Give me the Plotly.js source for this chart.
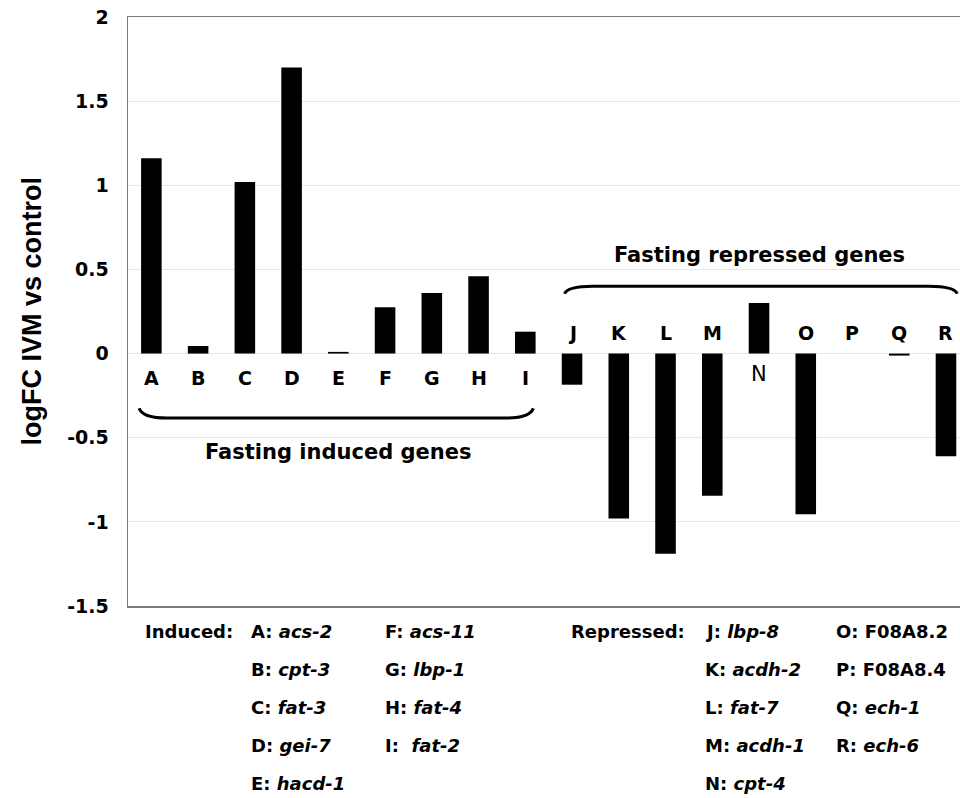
<!DOCTYPE html>
<html>
<head>
<meta charset="utf-8">
<script src="https://cdn.plot.ly/plotly-3.0.1.min.js"></script>
<style>html,body{margin:0;padding:0;background:#fff;}#chart{width:960px;height:798px;}</style>
</head>
<body>
<div id="chart"></div>
<script>
// ---- data ----
const categories = ["A","B","C","D","E","F","G","H","I","J","K","L","M","N","O","P","Q","R"];
const logFC = [1.16, 0.045, 1.02, 1.70, 0.01, 0.275, 0.36, 0.46, 0.13,
               -0.185, -0.98, -1.19, -0.845, 0.30, -0.955, 0, -0.012, -0.61];
const inducedGenes = ["acs-2","cpt-3","fat-3","gei-7","hacd-1","acs-11","lbp-1","fat-4","fat-2"];
const repressedGenes = ["lbp-8","acdh-2","fat-7","acdh-1","cpt-4","F08A8.2","F08A8.4","ech-1","ech-6"];
const italicGene = [true,true,true,true,true,true,true,true,true,
                    true,true,true,true,true,false,false,true,true];
const yTicks = [-1.5, -1, -0.5, 0, 0.5, 1, 1.5, 2];
const yTitle = "logFC IVM vs control";
const inducedLabel = "Fasting induced genes";
const repressedLabel = "Fasting repressed genes";

// ---- layout helpers ----
const W = 960, H = 798;
const mL = 128, mR = 0, mT = 17, mB = 192;
const xMin = -0.5, xMax = 17.3;
const plotW = W - mL - mR, plotH = H - mT - mB;
const xp = i => (i - xMin) / (xMax - xMin);           // category index -> paper x
const pxToPaper = px => (px - mL) / plotW;
const pyToPaper = py => (H - mB - py) / plotH;
const hFont = "DejaVu Sans, Arial, sans-serif";
const vFont = "Liberation Sans, Arial, sans-serif";

const annotations = [];
// bar letter labels
categories.forEach((c, i) => {
  const below = logFC[i] > 0;
  const regular = (i >= 9 && logFC[i] > 0);
  annotations.push({
    x: c, y: 0, xref: "x", yref: "y", showarrow: false,
    text: regular ? c : "<b>" + c + "</b>",
    yshift: below ? (regular ? -20 : -24) : 21,
    font: {family: hFont, size: regular ? 21 : 19, color: "#000"},
    xanchor: "center", yanchor: "middle"
  });
});
// group labels
annotations.push({x: categories[4], y: -0.583, xref: "x", yref: "y", showarrow: false,
  text: "<b>" + inducedLabel + "</b>", font: {family: hFont, size: 21, color: "#000"}});
annotations.push({x: categories[13], y: 0.583, xref: "x", yref: "y", showarrow: false,
  text: "<b>" + repressedLabel + "</b>", font: {family: hFont, size: 21, color: "#000"}});
// y title
annotations.push({x: pxToPaper(31), y: 0.5, xref: "paper", yref: "paper", showarrow: false,
  text: "<b>" + yTitle + "</b>", textangle: -90, xanchor: "center", yanchor: "middle",
  font: {family: vFont, size: 27, color: "#000"}});

// legend text block
const rowPx = [631, 669, 707, 745, 783];
const legFont = {family: hFont, size: 18, color: "#000"};
function geneText(letter, gene, ital) {
  return "<b>" + letter + ": " + (ital ? "<i>" + gene + "</i>" : gene) + "</b>";
}
function legAnn(px, row, text) {
  return {x: pxToPaper(px), y: pyToPaper(rowPx[row]), xref: "paper", yref: "paper",
          showarrow: false, xanchor: "left", yanchor: "middle", text: text, font: legFont};
}
annotations.push(legAnn(143, 0, "<b>Induced:</b>"));
annotations.push(legAnn(569, 0, "<b>Repressed:</b>"));
inducedGenes.forEach((g, k) => {
  const col = k < 5 ? 0 : 1, row = k < 5 ? k : k - 5;
  const letter = categories[k];
  annotations.push(legAnn(col === 0 ? 249 : 383, row,
    letter === "I" ? "<b>I:  <i>" + g + "</i></b>" : geneText(letter, g, italicGene[k])));
});
repressedGenes.forEach((g, k) => {
  const col = k < 5 ? 0 : 1, row = k < 5 ? k : k - 5;
  const idx = 9 + k;
  annotations.push(legAnn(col === 0 ? 703 : 834, row, geneText(categories[idx], g, italicGene[idx])));
});

// braces (decorations)
function bracePath(x0, x1, yEnd, yMid, r) {
  const a = xp(x0), b = xp(x1), rr = r / (xMax - xMin);
  return `M ${a},${yEnd} Q ${a + rr * 0.1},${yMid} ${a + rr},${yMid} L ${b - rr},${yMid} Q ${b - rr * 0.1},${yMid} ${b},${yEnd}`;
}
const shapes = [
  {type: "path", xref: "paper", yref: "y", path: bracePath(-0.26, 8.17, -0.325, -0.383, 0.6),
   line: {color: "#000", width: 3}},
  {type: "path", xref: "paper", yref: "y", path: bracePath(8.84, 17.24, 0.355, 0.40, 0.6),
   line: {color: "#000", width: 3}}
];

const trace = {
  type: "bar", x: categories, y: logFC, width: 0.44,
  marker: {color: "#000", line: {width: 0}}, hoverinfo: "x+y"
};

const layout = {
  width: W, height: H,
  margin: {l: mL, r: mR, t: mT, b: mB, pad: 0},
  paper_bgcolor: "#fff", plot_bgcolor: "#fff",
  showlegend: false,
  xaxis: {type: "category", range: [xMin, xMax], showticklabels: false, ticks: "",
          showgrid: false, zeroline: false, showline: true, mirror: true,
          linecolor: "#7a7a7a", linewidth: 1.5, fixedrange: true},
  yaxis: {range: [-1.5, 2], tickvals: yTicks, ticktext: yTicks.map(v => "<b>" + v + "</b>"),
          ticks: "", ticklabelstandoff: 14,
          tickfont: {family: hFont, size: 19, color: "#000"},
          showgrid: true, gridcolor: "#e6e6e6", gridwidth: 1.2, zeroline: false,
          showline: true, linecolor: "#7a7a7a", linewidth: 1.5, fixedrange: true},
  annotations: annotations,
  shapes: shapes
};

Plotly.newPlot("chart", [trace], layout, {displayModeBar: false, staticPlot: true});
</script>
</body>
</html>
